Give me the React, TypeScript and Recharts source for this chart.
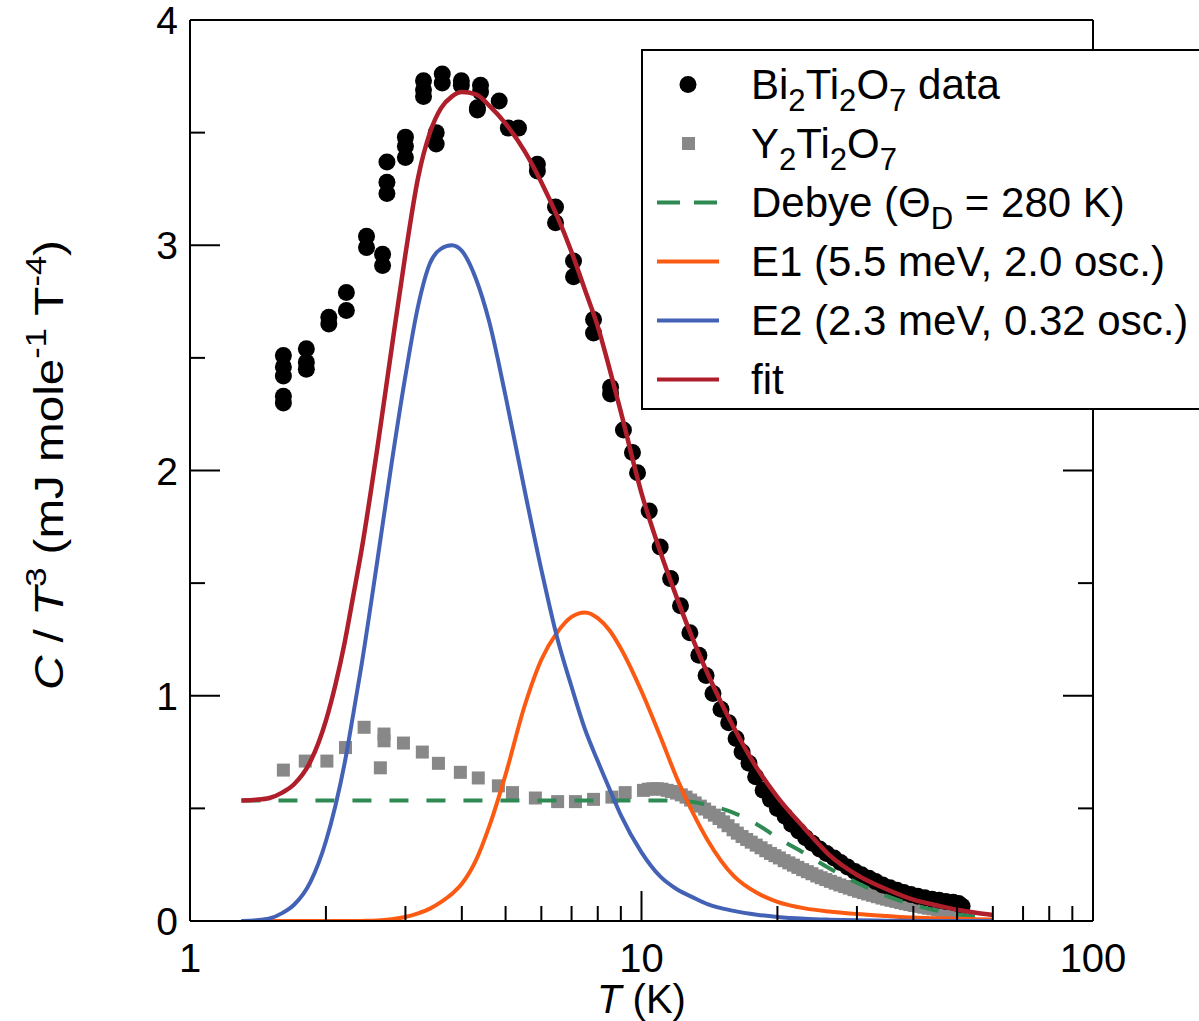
import React from "react";
import { ComposedChart, Line, Scatter, XAxis, YAxis, Legend } from "recharts";

// model curves, all sampled on the same temperature grid (K)
const curveT = [1.3, 1.4, 1.5, 1.6, 1.7, 1.85, 2.0, 2.1, 2.2, 2.3, 2.4, 2.6, 2.8, 3.0, 3.2, 3.4, 3.6, 3.8, 4.0, 4.3, 4.6, 5.0, 5.5, 6.0, 6.5, 7.0, 7.5, 8.0, 8.5, 9.0, 10, 11, 12, 13, 14, 16, 18, 20, 23, 26, 30, 35, 40, 45, 50, 55, 60];
const debyeC = [0.535, 0.535, 0.535, 0.535, 0.535, 0.535, 0.535, 0.535, 0.535, 0.535, 0.535, 0.535, 0.535, 0.535, 0.535, 0.535, 0.535, 0.535, 0.535, 0.535, 0.535, 0.535, 0.535, 0.535, 0.535, 0.535, 0.535, 0.535, 0.535, 0.535, 0.535, 0.535, 0.534, 0.528, 0.515, 0.48, 0.43, 0.37, 0.3, 0.235, 0.17, 0.11, 0.072, 0.046, 0.03, 0.02, 0.013];
const e1C = [0, 0, 0, 0, 0, 0, 0, 0, 0, 0, 0.0005, 0.002, 0.008, 0.018, 0.034, 0.055, 0.085, 0.12, 0.165, 0.27, 0.42, 0.65, 0.95, 1.16, 1.28, 1.35, 1.37, 1.345, 1.29, 1.21, 1.02, 0.82, 0.63, 0.48, 0.36, 0.2, 0.125, 0.085, 0.056, 0.042, 0.031, 0.022, 0.015, 0.012, 0.01, 0.008, 0.007];
const e2C = [0, 0.003, 0.011, 0.035, 0.072, 0.175, 0.354, 0.513, 0.7, 0.92, 1.14, 1.6, 2.04, 2.42, 2.73, 2.92, 2.985, 3.0, 2.975, 2.85, 2.66, 2.33, 1.92, 1.56, 1.26, 1.04, 0.85, 0.71, 0.585, 0.47, 0.305, 0.198, 0.14, 0.105, 0.075, 0.045, 0.028, 0.018, 0.01, 0.006, 0.003, 0.0015, 0.0005, 0, 0, 0, 0];
const fitC = [0.535, 0.538, 0.546, 0.57, 0.607, 0.71, 0.89, 1.05, 1.235, 1.445, 1.65, 2.1, 2.55, 2.96, 3.3, 3.5, 3.61, 3.66, 3.68, 3.67, 3.62, 3.54, 3.42, 3.28, 3.13, 2.97, 2.8, 2.64, 2.45, 2.26, 1.9, 1.64, 1.43, 1.25, 1.1, 0.86, 0.68, 0.55, 0.41, 0.295, 0.205, 0.14, 0.095, 0.07, 0.05, 0.037, 0.027];

// measured points [T, C/T^3]
const biData: [number, number][] = [
  [1.61, 2.51], [1.61, 2.46], [1.61, 2.42], [1.61, 2.33], [1.61, 2.3],
  [1.81, 2.54], [1.81, 2.48], [1.81, 2.45],
  [2.03, 2.68], [2.03, 2.65], [2.22, 2.79], [2.22, 2.71],
  [2.46, 3.04], [2.46, 2.99], [2.67, 2.96], [2.67, 2.91],
  [2.73, 3.37], [2.73, 3.28], [2.73, 3.23],
  [3.0, 3.48], [3.0, 3.44], [3.0, 3.39],
  [3.29, 3.73], [3.29, 3.69], [3.29, 3.66],
  [3.51, 3.5], [3.51, 3.45], [3.62, 3.76], [3.62, 3.72],
  [3.99, 3.73], [3.99, 3.71], [4.33, 3.61], [4.33, 3.6], [4.4, 3.71], [4.4, 3.68],
  [4.84, 3.64], [5.07, 3.52], [5.34, 3.52], [5.88, 3.36], [5.88, 3.33],
  [6.45, 3.17], [6.45, 3.1], [7.07, 2.93], [7.07, 2.86], [7.83, 2.67], [7.83, 2.61],
  [8.54, 2.37], [8.54, 2.34], [9.12, 2.18], [9.55, 2.08], [9.8, 1.99],
  [10.4, 1.82], [11.0, 1.66], [11.6, 1.52], [12.2, 1.4], [12.8, 1.28], [13.4, 1.18],
  [13.9, 1.09], [14.4, 1.01], [15.0, 0.94], [15.6, 0.88], [16.2, 0.81], [16.7, 0.75],
  [17.3, 0.7], [17.9, 0.64], [18.6, 0.58], [19.3, 0.54], [20.0, 0.5], [20.8, 0.465],
  [21.5, 0.43], [22.3, 0.4], [23.1, 0.37], [23.9, 0.345], [24.8, 0.32], [25.7, 0.3],
  [26.7, 0.28], [27.6, 0.26], [28.6, 0.24], [29.7, 0.22], [30.7, 0.205], [31.9, 0.19],
  [33.0, 0.175], [34.2, 0.16], [35.5, 0.148], [36.8, 0.137], [38.1, 0.127], [39.5, 0.118],
  [40.9, 0.11], [42.4, 0.103], [44.0, 0.097], [45.6, 0.092], [47.2, 0.087], [49.0, 0.083],
  [50.4, 0.078], [51.3, 0.065],
];

const yData: [number, number][] = [
  [1.61, 0.67], [1.8, 0.71], [2.01, 0.71], [2.21, 0.77], [2.43, 0.86], [2.64, 0.68],
  [2.69, 0.83], [2.69, 0.8], [2.97, 0.79], [3.27, 0.75], [3.55, 0.7], [3.97, 0.66],
  [4.35, 0.635], [4.82, 0.6], [5.18, 0.57], [5.82, 0.546], [6.52, 0.53], [7.14, 0.53],
  [7.83, 0.54], [8.6, 0.55], [9.2, 0.57],
  [10.1, 0.58], [10.35, 0.585], [10.6, 0.587], [10.85, 0.587], [11.1, 0.585], [11.4, 0.58],
  [11.65, 0.575], [11.95, 0.568], [12.25, 0.56], [12.55, 0.55], [12.85, 0.537], [13.15, 0.524],
  [13.5, 0.51], [13.8, 0.497], [14.15, 0.483], [14.5, 0.47], [14.85, 0.455], [15.2, 0.44],
  [15.55, 0.423], [15.95, 0.405], [16.3, 0.39], [16.7, 0.375], [17.1, 0.362], [17.5, 0.35],
  [17.95, 0.337], [18.4, 0.325], [18.85, 0.312], [19.3, 0.3], [19.75, 0.29], [20.2, 0.28],
  [20.7, 0.268], [21.2, 0.258], [21.7, 0.248], [22.2, 0.238], [22.75, 0.228], [23.3, 0.219],
  [23.85, 0.21], [24.45, 0.2], [25.0, 0.192], [25.6, 0.184], [26.2, 0.176], [26.85, 0.168],
  [27.5, 0.16], [28.2, 0.153], [28.85, 0.146], [29.55, 0.139], [30.25, 0.132], [31.0, 0.126],
  [31.7, 0.12], [32.5, 0.114], [33.3, 0.108], [34.1, 0.102], [34.9, 0.097], [35.7, 0.092],
  [36.6, 0.087], [37.5, 0.082], [38.4, 0.077], [39.3, 0.073], [40.2, 0.069], [41.2, 0.065],
  [42.2, 0.061], [43.2, 0.057], [44.2, 0.054], [45.3, 0.05], [46.4, 0.047], [47.5, 0.044],
  [48.6, 0.041], [49.8, 0.038], [50.5, 0.036],
];

const xTicks = [1, 2, 3, 4, 5, 6, 7, 8, 9, 10, 20, 30, 40, 50, 60, 70, 80, 90, 100];
const xLabels = [1, 10, 100];
const yTicks = [0, 0.5, 1, 1.5, 2, 2.5, 3, 3.5, 4];
const yLabels = [0, 1, 2, 3, 4];

const FONT = '"Liberation Sans", Arial, Helvetica, sans-serif';
const RED = "#ae1e2b";
const BLUE = "#4362b5";
const ORANGE = "#fb5a12";
const GREEN = "#2e8a52";
const GRAY = "#888888";

const curve = (vals: number[]) => curveT.map((t, i) => ({ t, c: vals[i] }));
const pts = (arr: [number, number][]) => arr.map(([t, c]) => ({ t, c }));

const BottomTick = ({ x, y, payload }: any) => {
  const major = xLabels.includes(payload.value);
  return (
    <g>
      <line x1={x} x2={x} y1={y} y2={y - (major ? 30 : 15)} stroke="#000" strokeWidth={2} />
      {major && (
        <text x={x} y={y + 51} textAnchor="middle" fontSize={40} fontFamily={FONT} fill="#000">
          {payload.value}
        </text>
      )}
    </g>
  );
};

const TopTick = ({ x, y, payload }: any) => {
  const major = xLabels.includes(payload.value);
  return <line x1={x} x2={x} y1={y} y2={y + (major ? 30 : 15)} stroke="#000" strokeWidth={2} />;
};

const LeftTick = ({ x, y, payload }: any) => {
  const major = yLabels.includes(payload.value);
  return (
    <g>
      <line x1={x} x2={x + (major ? 30 : 15)} y1={y} y2={y} stroke="#000" strokeWidth={2} />
      {major && (
        <text x={x - 12} y={y + 14} textAnchor="end" fontSize={39} fontFamily={FONT} fill="#000">
          {payload.value}
        </text>
      )}
    </g>
  );
};

const RightTick = ({ x, y, payload }: any) => {
  const major = yLabels.includes(payload.value);
  return <line x1={x} x2={x - (major ? 30 : 15)} y1={y} y2={y} stroke="#000" strokeWidth={2} />;
};

const XTitle = ({ viewBox }: any) => (
  <text x={viewBox.x + viewBox.width / 2} y={viewBox.y + 92} textAnchor="middle" fontSize={40} fontFamily={FONT} fill="#000">
    <tspan fontStyle="italic">T</tspan>
    <tspan> (K)</tspan>
  </text>
);

const YTitle = ({ viewBox }: any) => {
  const cx = 63;
  const cy = viewBox.y + 445;
  return (
    <text
      x={cx}
      y={cy}
      transform={`rotate(-90, ${cx}, ${cy})`}
      textAnchor="middle"
      fontSize={40}
      fontFamily={FONT}
      fill="#000"
      textLength={450}
      lengthAdjust="spacingAndGlyphs"
    >
      <tspan fontStyle="italic">C</tspan>
      <tspan> / </tspan>
      <tspan fontStyle="italic">T</tspan>
      <tspan dy={-17} fontSize={29}>3</tspan>
      <tspan dy={17}> (mJ mole</tspan>
      <tspan dy={-17} fontSize={29}>-1</tspan>
      <tspan dy={17}> T</tspan>
      <tspan dy={-17} fontSize={29}>-4</tspan>
      <tspan dy={17}>)</tspan>
    </text>
  );
};

const Dot = (p: any) => <circle cx={p.cx} cy={p.cy} r={8.5} fill="#000" />;
const Sq = (p: any) => <rect x={p.cx - 6.5} y={p.cy - 6.5} width={13} height={13} fill={GRAY} />;

const sub = { fontSize: "0.74em", verticalAlign: "-0.38em", lineHeight: 0 } as const;

const rows = [
  { key: "bi", sym: "dot", label: <>Bi<span style={sub}>2</span>Ti<span style={sub}>2</span>O<span style={sub}>7</span> data</> },
  { key: "y", sym: "sq", label: <>Y<span style={sub}>2</span>Ti<span style={sub}>2</span>O<span style={sub}>7</span></> },
  { key: "debye", sym: "dash", label: <>Debye (Θ<span style={sub}>D</span> = 280 K)</> },
  { key: "e1", sym: ORANGE, label: <>E1 (5.5 meV, 2.0 osc.)</> },
  { key: "e2", sym: BLUE, label: <>E2 (2.3 meV, 0.32 osc.)</> },
  { key: "fit", sym: RED, label: <>fit</> },
];

const LegendBox = () => (
  <div
    style={{
      boxSizing: "border-box",
      width: 558,
      height: 361,
      background: "#fff",
      border: "2px solid #000",
      borderRight: "none",
      paddingTop: 4,
      fontFamily: FONT,
      fontSize: 42,
      color: "#000",
    }}
  >
    {rows.map((r) => (
      <div key={r.key} style={{ height: 59, display: "flex", alignItems: "center", whiteSpace: "nowrap" }}>
        <svg width={108} height={59} style={{ flex: "none" }}>
          {r.sym === "dot" && <circle cx={45} cy={29.5} r={8.5} fill="#000" />}
          {r.sym === "sq" && <rect x={39} y={23} width={13} height={13} fill={GRAY} />}
          {r.sym === "dash" && <line x1={14} x2={76} y1={29.5} y2={29.5} stroke={GREEN} strokeWidth={4} strokeDasharray="23 14" />}
          {r.sym.startsWith("#") && <line x1={14} x2={76} y1={29.5} y2={29.5} stroke={r.sym} strokeWidth={4} />}
        </svg>
        <span>{r.label}</span>
      </div>
    ))}
  </div>
);

export default function App() {
  return (
    <div style={{ position: "absolute", left: 0, top: 0, width: 1199, height: 1021, background: "#fff", overflow: "hidden" }}>
      <ComposedChart width={1199} height={1021} margin={{ top: 0, right: 0, bottom: 0, left: 0 }}>
        <XAxis
          dataKey="t"
          type="number"
          scale="log"
          domain={[1, 100]}
          allowDataOverflow
          ticks={xTicks}
          interval={0}
          height={100}
          tickSize={0}
          tickMargin={0}
          tickLine={false}
          tick={<BottomTick />}
          axisLine={{ stroke: "#000", strokeWidth: 2 }}
          label={{ content: <XTitle /> }}
        />
        <XAxis
          xAxisId="top"
          orientation="top"
          type="number"
          scale="log"
          domain={[1, 100]}
          allowDataOverflow
          ticks={xTicks}
          interval={0}
          height={20}
          tickSize={0}
          tickMargin={0}
          tickLine={false}
          tick={<TopTick />}
          axisLine={{ stroke: "#000", strokeWidth: 2 }}
        />
        <YAxis
          dataKey="c"
          type="number"
          domain={[0, 4]}
          allowDataOverflow
          ticks={yTicks}
          interval={0}
          width={190}
          tickSize={0}
          tickMargin={0}
          tickLine={false}
          tick={<LeftTick />}
          axisLine={{ stroke: "#000", strokeWidth: 2 }}
          label={{ content: <YTitle /> }}
        />
        <YAxis
          yAxisId="right"
          orientation="right"
          type="number"
          domain={[0, 4]}
          allowDataOverflow
          ticks={yTicks}
          interval={0}
          width={106}
          tickSize={0}
          tickMargin={0}
          tickLine={false}
          tick={<RightTick />}
          axisLine={{ stroke: "#000", strokeWidth: 2 }}
        />
        <Scatter data={pts(yData)} dataKey="c" shape={Sq} isAnimationActive={false} legendType="none" zIndex={300} />
        <Scatter data={pts(biData)} dataKey="c" shape={Dot} isAnimationActive={false} legendType="none" zIndex={310} />
        <Line data={curve(debyeC)} dataKey="c" type="monotone" stroke={GREEN} strokeWidth={4} strokeDasharray="19 18" dot={false} activeDot={false} isAnimationActive={false} legendType="none" zIndex={400} />
        <Line data={curve(e1C)} dataKey="c" type="monotone" stroke={ORANGE} strokeWidth={4} dot={false} activeDot={false} isAnimationActive={false} legendType="none" zIndex={401} />
        <Line data={curve(e2C)} dataKey="c" type="monotone" stroke={BLUE} strokeWidth={4} dot={false} activeDot={false} isAnimationActive={false} legendType="none" zIndex={402} />
        <Line data={curve(fitC)} dataKey="c" type="monotone" stroke={RED} strokeWidth={4.5} dot={false} activeDot={false} isAnimationActive={false} legendType="none" zIndex={403} />
        <Legend
          layout="horizontal"
          verticalAlign="middle"
          align="center"
          content={<LegendBox />}
          wrapperStyle={{ left: 641, top: 49, width: 558, height: 361 }}
        />
      </ComposedChart>
    </div>
  );
}
